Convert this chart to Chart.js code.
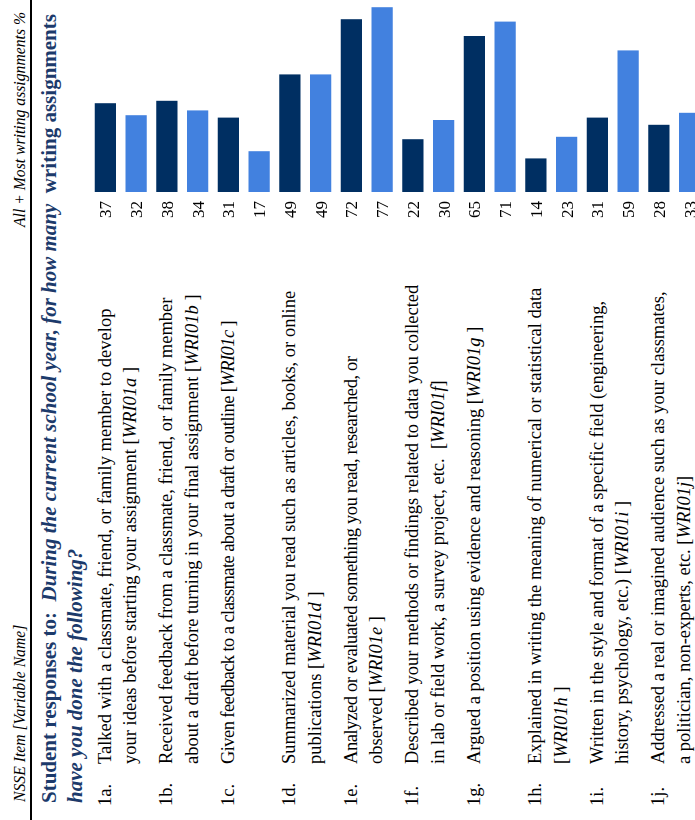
<!DOCTYPE html>
<html>
<head>
<meta charset="utf-8">
<script src="https://cdn.jsdelivr.net/npm/chart.js@4.4.1/dist/chart.umd.min.js"></script>
<style>
  html, body { margin: 0; padding: 0; background: #fff; }
  body { width: 695px; height: 820px; overflow: hidden; position: relative; }
  /* the page is laid out landscape and turned a quarter counter-clockwise */
  #page {
    position: absolute; left: 0; top: 0;
    width: 820px; height: 720px;
    transform-origin: 0 0;
    transform: translateY(820px) rotate(-90deg);
    font-family: 'Liberation Serif', 'Times New Roman', serif;
    color: #000;
  }
  .hdr { position: absolute; font-style: italic; font-size: 15.7px; line-height: 20px; white-space: nowrap; }
  #rule { position: absolute; left: 0; top: 30px; width: 820px; height: 1.5px; background: #000; }
  #title {
    position: absolute; left: 17px; top: 36px;
    font-size: 21px; line-height: 26px; font-weight: bold;
    color: #1c3a6b; white-space: nowrap;
  }
  .row { position: absolute; font-size: 18.5px; line-height: 25.5px; white-space: nowrap; }
  .num { position: absolute; left: 14px; }
  .txt { position: absolute; left: 56px; }
  #chart { position: absolute; left: 590px; top: 90px; }
</style>
</head>
<body>
<div id="page">
  <div class="hdr" style="left:18px; top:10px;">NSSE Item [Variable Name]</div>
  <div class="hdr" style="right:12px; top:10px;">All + Most writing assignments %</div>
  <div id="rule"></div>
  <div id="title">
    <div>Student responses to:&nbsp;&nbsp;<i>During the current school year, for how many</i>&nbsp;&nbsp;writing assignments</div>
    <div><i>have you done the following?</i></div>
  </div>
  <canvas id="chart" width="230" height="615"></canvas>
</div>
<script>
const itemCodes = ['1a.', '1b.', '1c.', '1d.', '1e.', '1f.', '1g.', '1h.', '1i.', '1j.']

const itemText = [
  ['Talked with a classmate, friend, or family member to develop', 'your ideas before starting your assignment'],
  ['Received feedback from a classmate, friend, or family member', 'about a draft before turning in your final assignment'],
  ['Given feedback to a classmate about a draft or outline'],
  ['Summarized material you read such as articles, books, or online', 'publications'],
  ['Analyzed or evaluated something you read, researched, or', 'observed'],
  ['Described your methods or findings related to data you collected', 'in lab or field work, a survey project, etc.&nbsp;'],
  ['Argued a position using evidence and reasoning'],
  ['Explained in writing the meaning of numerical or statistical data', ''],
  ['Written in the style and format of a specific field (engineering,', 'history, psychology, etc.)'],
  ['Addressed a real or imagined audience such as your classmates,', 'a politician, non-experts, etc.']
]

const varNames = ['WRI01a', 'WRI01b', 'WRI01c', 'WRI01d', 'WRI01e', 'WRI01f', 'WRI01g', 'WRI01h', 'WRI01i', 'WRI01j']
const varClose = [' ]', ' ]', ' ]', ' ]', ' ]', ']', ' ]', ' ]', ' ]', ']']

// two groups per item, dark bar first
const darkValues = [37, 38, 31, 49, 72, 22, 65, 14, 31, 28]
const lightValues = [32, 34, 17, 49, 77, 30, 71, 23, 59, 33]

const DARK = '#002f62'
const LIGHT = '#4281df'

// a couple of first lines are set a little tighter in the original
const tightFirstLine = { 2: '-0.58px', 4: '-0.4px' }

const valueLabels = {
  id: 'valueLabels',
  afterDatasetsDraw (chart) {
    const ctx = chart.ctx
    ctx.save()
    ctx.font = '17px "Liberation Serif", serif'
    ctx.fillStyle = '#000'
    ctx.textAlign = 'right'
    ctx.textBaseline = 'alphabetic'
    chart.data.datasets.forEach((ds, d) => {
      chart.getDatasetMeta(d).data.forEach((bar, i) => {
        ctx.fillText(String(ds.data[i]), bar.base - 9, bar.y + 6)
      })
    })
    ctx.restore()
  }
}

const canvas = document.getElementById('chart')

const chart = new Chart(canvas.getContext('2d'), {
  type: 'bar',
  data: {
    labels: itemCodes,
    datasets: [
      { label: 'Group 1', data: darkValues, backgroundColor: DARK },
      { label: 'Group 2', data: lightValues, backgroundColor: LIGHT }
    ]
  },
  options: {
    indexAxis: 'y',
    responsive: false,
    animation: false,
    events: [],
    categoryPercentage: 1,
    barPercentage: 0.683,
    layout: { padding: { left: 38, right: 0, top: 0, bottom: 0 } },
    plugins: {
      legend: { display: false },
      tooltip: { enabled: false }
    },
    scales: {
      x: { display: false, min: 0, max: 80 },
      y: { display: false }
    }
  },
  plugins: [valueLabels]
})

// item rows follow the category axis so text lines sit against their bars
const page = document.getElementById('page')
const yScale = chart.scales.y
const slot = yScale.getPixelForValue(1) - yScale.getPixelForValue(0)
const canvasTop = canvas.offsetTop

itemCodes.forEach((code, i) => {
  const row = document.createElement('div')
  row.className = 'row'
  row.style.top = (canvasTop + yScale.getPixelForValue(i) - slot / 4 - 12.75) + 'px'

  const lines = itemText[i].slice()
  const last = lines.length - 1
  const tag = '[<i>' + varNames[i] + '</i>' + varClose[i]
  lines[last] = lines[last] ? lines[last] + ' ' + tag : tag

  const html = lines.map((l, k) => {
    const ls = (k === 0 && tightFirstLine[i]) ? ' style="letter-spacing:' + tightFirstLine[i] + '"' : ''
    return '<div' + ls + '>' + l + '</div>'
  }).join('')

  row.innerHTML = '<div class="num">' + code + '</div><div class="txt">' + html + '</div>'
  page.appendChild(row)
})
</script>
</body>
</html>
